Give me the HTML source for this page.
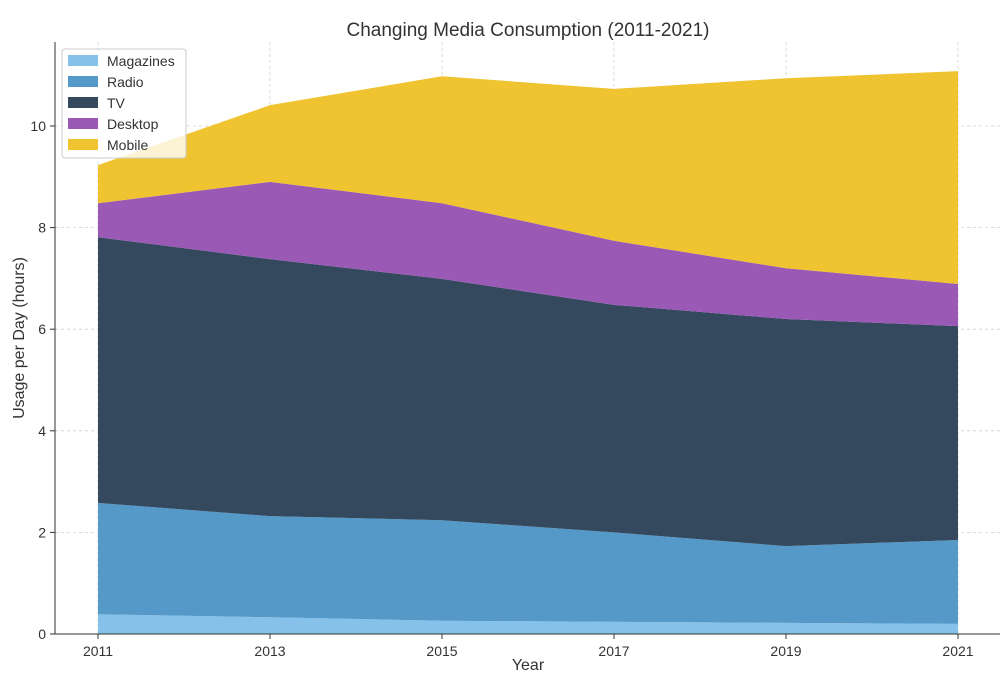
<!DOCTYPE html>
<html><head><meta charset="utf-8"><style>
body{margin:0;background:#fff;}
svg{display:block;font-family:"Liberation Sans","DejaVu Sans",sans-serif;}
</style></head><body>
<svg id="chart" width="1000" height="682"></svg>
<script>
const years = [2011, 2013, 2015, 2017, 2019, 2021];
const magazines = [0.39, 0.33, 0.26, 0.24, 0.22, 0.20];
const radio = [2.19, 1.99, 1.98, 1.76, 1.51, 1.65];
const tv = [5.23, 5.06, 4.75, 4.48, 4.47, 4.21];
const desktop = [0.67, 1.52, 1.49, 1.26, 1.00, 0.83];
const mobile = [0.75, 1.51, 2.50, 2.99, 3.74, 4.19];
const seriesNames = ["Magazines", "Radio", "TV", "Desktop", "Mobile"];
const yTicks = [0, 2, 4, 6, 8, 10];

const colors = ["#85c1e9", "#5499c7", "#34495e", "#9b59b6", "#f0c330"];
const series = [magazines, radio, tv, desktop, mobile];
const NS = "http://www.w3.org/2000/svg";
const svg = document.getElementById("chart");
const x = v => 98 + (v - 2011) * 86;
const y = v => 634 - v * 50.8;
function mk(tag, attrs, parent) {
  const e = document.createElementNS(NS, tag);
  for (const k in attrs) e.setAttribute(k, attrs[k]);
  (parent || svg).appendChild(e);
  return e;
}
// grid
yTicks.forEach(t => {
  const g = mk("line", {x1: 55, x2: 1000, y1: y(t), y2: y(t), stroke: "#d0d0d0", "stroke-dasharray": "3,3", "stroke-width": 0.8});
  
  
});
years.forEach(yr => {
  const g = mk("line", {x1: x(yr), x2: x(yr), y1: 42, y2: 634, stroke: "#d0d0d0", "stroke-dasharray": "3,3", "stroke-width": 0.8});
  
  
});
// stacked areas
let base = years.map(() => 0);
series.forEach((s, i) => {
  const top = base.map((b, j) => b + s[j]);
  let d = "M" + years.map((yr, j) => x(yr) + "," + y(top[j])).join("L");
  for (let j = years.length - 1; j >= 0; j--) d += "L" + x(years[j]) + "," + y(base[j]);
  d += "Z";
  const p = mk("path", {d: d, fill: colors[i]});
  
  
  base = top;
});
// axes
const ax = mk("path", {d: "M55,42V634H1000", fill: "none", stroke: "#333", "stroke-width": 1});


yTicks.forEach(t => {
  mk("line", {x1: 50, x2: 55, y1: y(t), y2: y(t), stroke: "#333"});
  const tx = mk("text", {x: 46, y: y(t) + 5, "text-anchor": "end", "font-size": 14, fill: "#333"});
  tx.textContent = t;
  
  
});
years.forEach(yr => {
  mk("line", {x1: x(yr), x2: x(yr), y1: 634, y2: 639, stroke: "#333"});
  const tx = mk("text", {x: x(yr), y: 656, "text-anchor": "middle", "font-size": 14, fill: "#333"});
  tx.textContent = yr;
  
  
});
const xt = mk("text", {x: 528, y: 670, "text-anchor": "middle", "font-size": 16, fill: "#333"});
xt.textContent = "Year";


const yt = mk("text", {x: 24, y: 338, "text-anchor": "middle", "font-size": 16, fill: "#333", transform: "rotate(-90 24 338)"});
yt.textContent = "Usage per Day (hours)";


const ti = mk("text", {x: 528, y: 36, "text-anchor": "middle", "font-size": 19, fill: "#333"});
ti.textContent = "Changing Media Consumption (2011-2021)";


// legend
const lg = mk("g", {});


mk("rect", {x: 62, y: 49, width: 124, height: 109, rx: 3, fill: "#fff", "fill-opacity": 0.8, stroke: "#ccc"}, lg);
seriesNames.forEach((n, i) => {
  const e = mk("g", {}, lg);
  
  
  mk("rect", {x: 68, y: 55 + i * 21, width: 30, height: 11, fill: colors[i]}, e);
  const t = mk("text", {x: 107, y: 66 + i * 21, "font-size": 14, fill: "#333"}, e);
  t.textContent = n;
});
</script>
</body></html>
